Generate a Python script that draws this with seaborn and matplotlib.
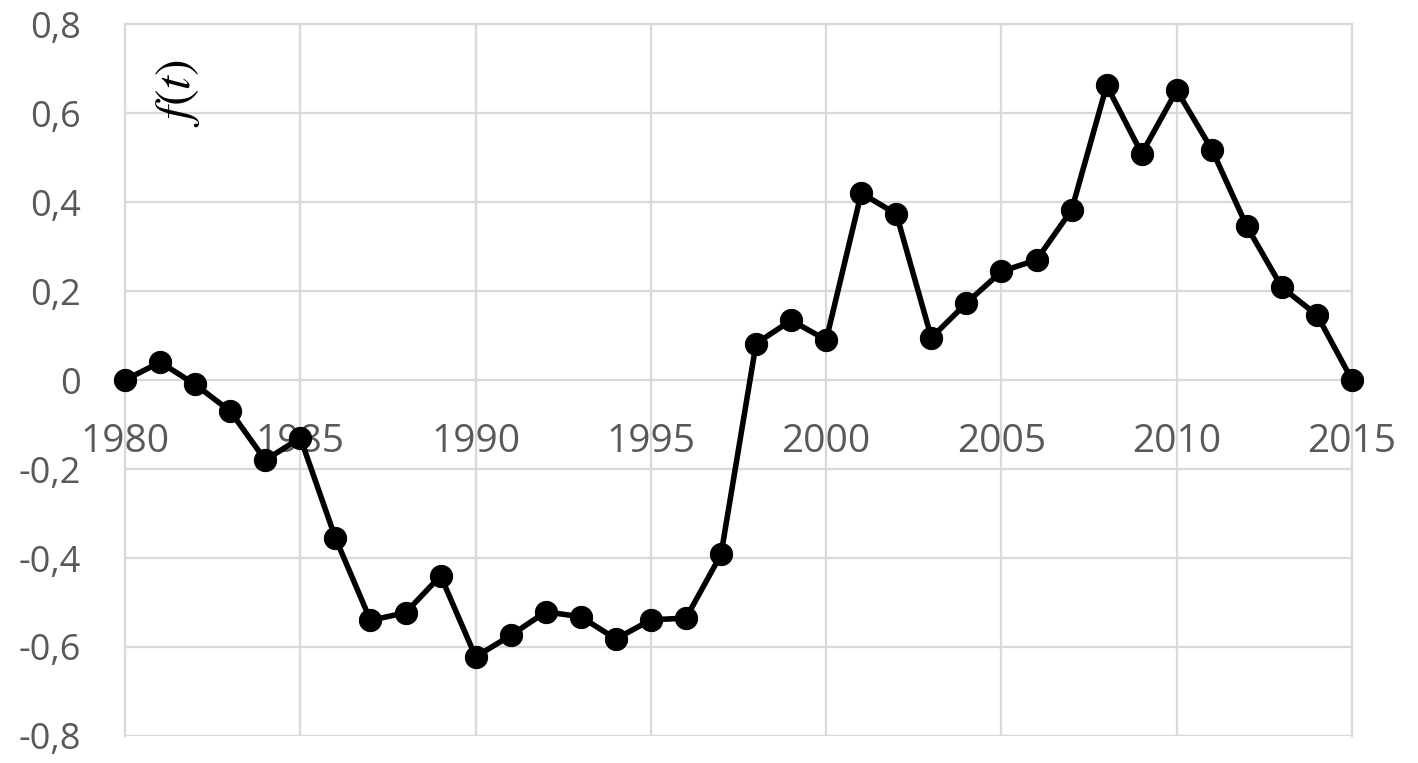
import matplotlib
matplotlib.use('Agg')
import matplotlib.pyplot as plt
import matplotlib.ticker as mticker
import pandas as pd
import seaborn as sns

# values
years = list(range(1980, 2016))
f_values = [0.0, 0.04, -0.01, -0.07, -0.18, -0.13, -0.355, -0.54, -0.523, -0.44,
            -0.622, -0.574, -0.521, -0.532, -0.582, -0.539, -0.535, -0.392, 0.082, 0.134,
            0.09, 0.42, 0.373, 0.095, 0.173, 0.244, 0.27, 0.382, 0.662, 0.509,
            0.651, 0.518, 0.345, 0.208, 0.146, 0.0]
x_ticks = [1980, 1985, 1990, 1995, 2000, 2005, 2010, 2015]
y_ticks = [-0.8, -0.6, -0.4, -0.2, 0, 0.2, 0.4, 0.6, 0.8]

df = pd.DataFrame({'year': years, 'f': f_values})

sns.set_style('white')
plt.rcParams['font.family'] = ['Open Sans', 'DejaVu Sans']
plt.rcParams['mathtext.fontset'] = 'stix'

fig = plt.figure(figsize=(14.18, 7.63), dpi=100)
ax = fig.add_axes([0.0882, 0.0354, 0.8653, 0.9331])

sns.lineplot(data=df, x='year', y='f', ax=ax, color='black', linewidth=4,
             marker='o', markersize=16, markeredgecolor='black', zorder=5, clip_on=False)

ax.set_xlim(1980, 2015)
ax.set_ylim(-0.8, 0.8)
ax.set_xticks(x_ticks)
ax.set_yticks(y_ticks)

def comma_fmt(v, pos):
    if abs(v) < 1e-9:
        return '0'
    return f'{v:.1f}'.replace('.', ',')

ax.yaxis.set_major_formatter(mticker.FuncFormatter(comma_fmt))

ax.grid(True, color='#d9d9d9', linewidth=1.6)
ax.set_axisbelow(True)
for side in ['left', 'right', 'top']:
    ax.spines[side].set_color('#d9d9d9')
    ax.spines[side].set_linewidth(1.6)
ax.spines['bottom'].set_position(('data', 0))
ax.spines['bottom'].set_visible(False)

ax.tick_params(axis='y', length=0, pad=32, labelsize=26, labelcolor='#595959')
ax.tick_params(axis='x', length=0, pad=31, labelsize=28, labelcolor='#595959')
ax.set_xlabel('')
ax.set_ylabel('')

# bottom border at -0.8
ax.axhline(-0.8, color='#d9d9d9', linewidth=1.6, zorder=0)

ax.text(1981.5, 0.645, r'$f(t)$', rotation=90, ha='center', va='center',
        fontsize=36, color='black')

fig.savefig('out.png', dpi=100)
